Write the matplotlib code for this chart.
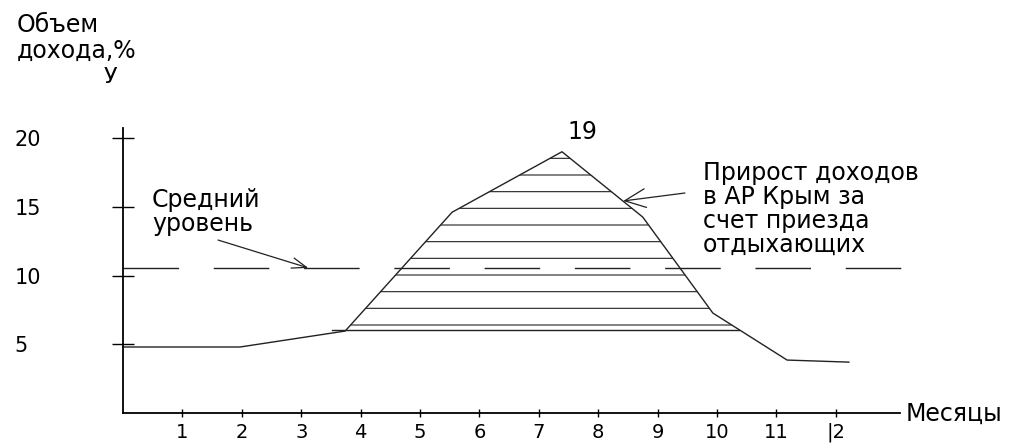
import numpy as np
import matplotlib
matplotlib.use('Agg')
import matplotlib.pyplot as plt

# values
months = [0, 1.97, 3.74, 5.54, 7.39, 8.75, 9.93, 11.18, 12.22]
income = [4.8, 4.8, 5.96, 14.6, 19.0, 14.25, 7.27, 3.85, 3.7]
avg_level = 10.55
base_level = 6.05
x_ticks = [1, 2, 3, 4, 5, 6, 7, 8, 9, 10, 11, 12]
x_labels = ['1', '2', '3', '4', '5', '6', '7', '8', '9', '10', '11', '|2']
y_ticks = [5, 10, 15, 20]
y_labels = ['5', '10', '15', '20']

plt.rcParams['font.family'] = ['DejaVu Sans']
plt.rcParams['hatch.linewidth'] = 0.8

W, H = 1031, 443
fig = plt.figure(figsize=(W / 100, H / 100), dpi=100)
ax = fig.add_axes([0, 0, 1, 1])
# pixel mapping: x = 123 + 59.4*m, y = 413 - 13.75*v
ax.set_xlim(-123 / 59.4, (W - 123) / 59.4)
ax.set_ylim(-(H - 413) / 13.75, 413 / 13.75)
ax.patch.set_visible(False)

for s in ['top', 'right']:
    ax.spines[s].set_visible(False)
ax.spines['left'].set_position(('data', 0))
ax.spines['bottom'].set_position(('data', 0))
ax.spines['left'].set_bounds(0, 20.7)
ax.spines['bottom'].set_bounds(0, 13.08)
ax.spines['left'].set_linewidth(1.3)
ax.spines['bottom'].set_linewidth(1.3)

ax.set_xticks(x_ticks, x_labels, fontsize=14)
ax.set_yticks(y_ticks, y_labels, fontsize=15)
ax.tick_params(axis='x', direction='inout', length=6, pad=4, width=1)
ax.tick_params(axis='y', direction='inout', length=16, pad=70, width=1)
for lbl in ax.get_yticklabels():
    lbl.set_horizontalalignment('left')

# income curve
ax.plot(months, income, color='#222222', lw=1.0)

# average level
ax.plot([0, 13.5], [avg_level, avg_level], color='#222222', lw=1.0,
        linestyle=(0, (40, 25)))

# hatched growth region
xf = np.linspace(months[0], months[-1], 3000)
yf = np.interp(xf, months, income)
mask = yf >= base_level
ax.fill_between(xf, base_level, yf, where=mask, interpolate=True,
                facecolor='none', edgecolor='#222222', linewidth=0, hatch='-')
ax.plot([xf[mask][0] - 0.25, xf[mask][-1]], [base_level, base_level],
        color='#222222', lw=1.0)

# labels
ax.text(7.73, 20.44, '19', fontsize=17, ha='center', va='center')
ax.text(0.49, 16.35, 'Средний\nуровень', fontsize=17, ha='left', va='top',
        linespacing=1.0)
ax.annotate('', xy=(3.12, avg_level), xytext=(1.6, 12.58),
            arrowprops=dict(arrowstyle='->,head_length=0.7,head_width=0.25',
                            lw=0.9, color='#222222', shrinkA=0, shrinkB=0,
                            mutation_scale=15))
ax.text(9.76, 18.35, 'Прирост доходов\nв АР Крым за\nсчет приезда\nотдыхающих',
        fontsize=17, ha='left', va='top', linespacing=1.0)
ax.annotate('', xy=(8.42, 15.42), xytext=(9.46, 16.0),
            arrowprops=dict(arrowstyle='->,head_length=1.0,head_width=0.45',
                            lw=0.9, color='#222222', shrinkA=0, shrinkB=0,
                            mutation_scale=15))

fig.text(17 / W, 1 - 13 / H, 'Объем\nдохода,%', fontsize=17, ha='left',
         va='top', linespacing=1.1)
fig.text(110 / W, 1 - 67 / H, 'У', fontsize=16, ha='center', va='top')
fig.text(906 / W, 1 - 414 / H, 'Месяцы', fontsize=17, ha='left', va='center')

fig.savefig('out.png', dpi=100)
